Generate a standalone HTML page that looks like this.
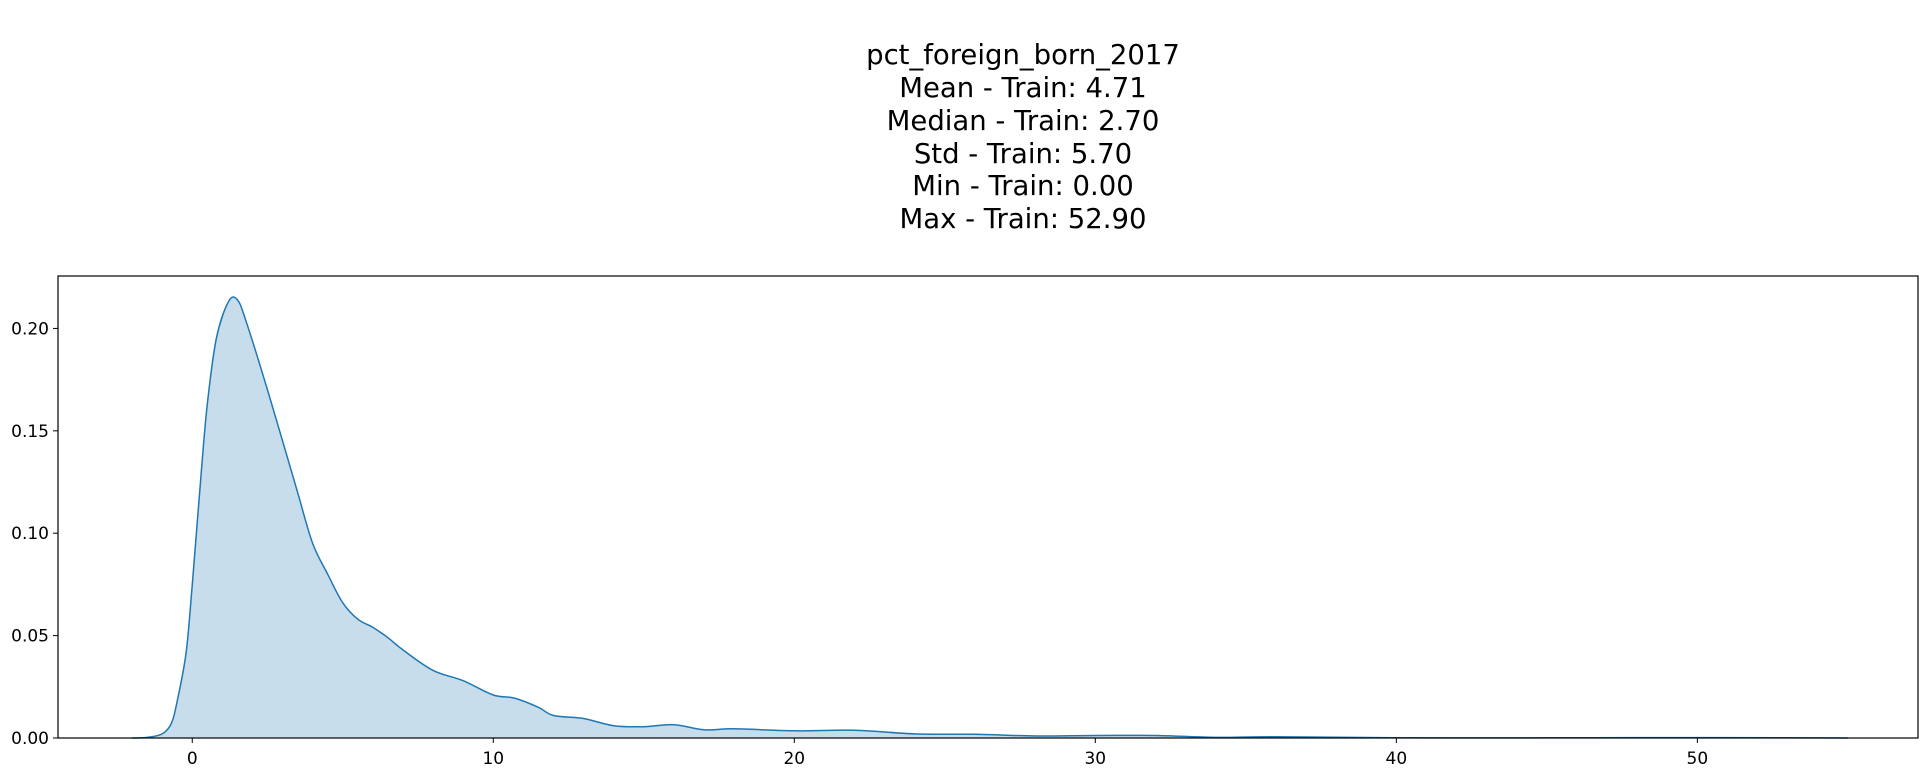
<!DOCTYPE html>
<html><head><meta charset="utf-8"><style>
body{margin:0;background:#fff;}
svg{display:block;font-family:"DejaVu Sans","Liberation Sans",sans-serif;}
</style></head><body>
<svg id="chart" width="1928" height="776">
<g font-size="27.5" text-anchor="middle" fill="#000">
<text x="1023" y="64">pct_foreign_born_2017</text>
<text x="1023" y="97">Mean - Train: 4.71</text>
<text x="1023" y="130">Median - Train: 2.70</text>
<text x="1023" y="163">Std - Train: 5.70</text>
<text x="1023" y="195">Min - Train: 0.00</text>
<text x="1023" y="228">Max - Train: 52.90</text>
</g>
<g id="plot"></g>
</svg>
<script>
const xs=[-2,-1.5,-1,-0.7,-0.5,-0.2,0,0.3,0.5,0.8,1.2,1.5,1.8,2.5,3,3.5,4,4.5,5,5.5,6,6.5,7,8,9,10,10.7,11.5,12,13,14,15,16,17,18,20,22,24,26,28,30,32,34,36,40,45,48,53,55];
const ys=[0,0.0003,0.002,0.007,0.018,0.042,0.075,0.13,0.163,0.195,0.213,0.214,0.203,0.17,0.145,0.12,0.095,0.08,0.066,0.058,0.054,0.049,0.043,0.033,0.028,0.021,0.0195,0.015,0.011,0.0095,0.006,0.0055,0.0065,0.004,0.0045,0.0035,0.0038,0.002,0.0018,0.001,0.0012,0.0012,0.0003,0.0006,0.0001,0.0001,0.0002,0.0001,0];
const xTicks=[0,10,20,30,40,50];
const yTicks=[0,0.05,0.10,0.15,0.20];
const L=58,R=1918,T=276,B=738,xmin=-4.46,xmax=57.33,ymax=0.2256;
const X=v=>L+(v-xmin)/(xmax-xmin)*(R-L);
const Y=v=>B-v/ymax*(B-T);
const NS='http://www.w3.org/2000/svg';
const g=document.getElementById('plot');
function mk(t,a){const e=document.createElementNS(NS,t);for(const k in a)e.setAttribute(k,a[k]);g.appendChild(e);return e;}
const P=xs.map((x,i)=>[X(x),Y(ys[i])]);
let d='M'+P[0][0].toFixed(1)+','+P[0][1].toFixed(1);
for(let i=0;i<P.length-1;i++){
 const p0=P[Math.max(0,i-1)],p1=P[i],p2=P[i+1],p3=P[Math.min(P.length-1,i+2)];
 const c1x=p1[0]+(p2[0]-p0[0])/6,c1y=p1[1]+(p2[1]-p0[1])/6;
 const c2x=p2[0]-(p3[0]-p1[0])/6,c2y=p2[1]-(p3[1]-p1[1])/6;
 d+=' C'+c1x.toFixed(1)+','+Math.min(B,c1y).toFixed(1)+' '+c2x.toFixed(1)+','+Math.min(B,c2y).toFixed(1)+' '+p2[0].toFixed(1)+','+p2[1].toFixed(1);
}
const area=mk('path',{d:d+' L'+X(xs[xs.length-1])+','+Y(0)+' L'+X(xs[0])+','+Y(0)+'Z',fill:'#1f77b4','fill-opacity':'0.25',stroke:'none'});


const line=mk('path',{d:d,fill:'none',stroke:'#1f77b4','stroke-width':'1.5'});


const frame=mk('rect',{x:L,y:T,width:R-L,height:B-T,fill:'none',stroke:'#000','stroke-width':'1.2'});


xTicks.forEach(v=>{
 const t=mk('line',{x1:X(v),x2:X(v),y1:B,y2:B+5,stroke:'#000'});
 
 
 const l=mk('text',{x:X(v),y:B+26,'text-anchor':'middle','font-size':'17'});l.textContent=v;
 
 
});
yTicks.forEach(v=>{
 const t=mk('line',{x1:L-5,x2:L,y1:Y(v),y2:Y(v),stroke:'#000'});
 
 
 const l=mk('text',{x:L-9,y:Y(v)+6,'text-anchor':'end','font-size':'17'});l.textContent=v.toFixed(2);
 
 
});
</script>
</body></html>
